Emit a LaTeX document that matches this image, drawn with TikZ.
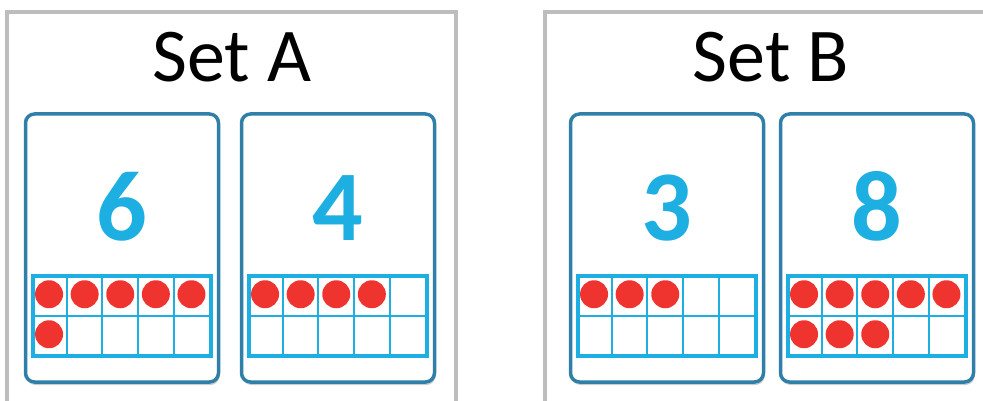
\documentclass[tikz,border=0pt]{standalone}
\usepackage{fontspec}
\setmainfont{Carlito}
\usetikzlibrary{positioning, shadows}

\definecolor{setgray}{HTML}{BDBDBD}
\definecolor{cardblue}{HTML}{2F7FA8}
\definecolor{digitblue}{HTML}{1DAFE2}
\definecolor{dotred}{HTML}{EF3430}

\begin{document}
\begin{tikzpicture}[x=1pt,y=-1pt,
  card/.style={draw=cardblue, line width=3.5pt, rounded corners=9pt, fill=white,
    minimum width=193pt, minimum height=268pt,
    drop shadow={shadow xshift=1pt, shadow yshift=-3pt, opacity=.4}},
  digit/.style={font=\fontsize{100}{100}\selectfont\bfseries, text=digitblue, anchor=base},
  title/.style={font=\fontsize{76}{76}\selectfont, anchor=base},
  frame/.style={draw=digitblue, line width=3.5pt, minimum width=178pt, minimum height=80pt, inner sep=0pt},
  dot/.style={fill=dotred, circle, inner sep=0pt, minimum size=28pt}]

  \useasboundingbox (0,0) rectangle (983,401);

  % the two set frames
  \draw[setgray, line width=3.5pt] (7,402) -- (7,12) -- (456,12) -- (456,402);
  \draw[setgray, line width=3.5pt] (545,402) -- (545,12) -- (984,12);

  \node[title] (setA) at (232,82) {Set A};
  \node[title] (setB) at (771,82) {Set B};

  % cards with ten frames
  \foreach \name/\cx/\num in {a/122/6, b/338/4, c/667/3, d/877/8} {
    \node[card] (card\name) at (\cx,248) {};
    \node[digit] (num\name) at (\cx,240) {\num};
    \node[frame] (ten\name) at (\cx,316) {};
    \draw[digitblue, line width=2pt] (ten\name.west) -- (ten\name.east);
    \foreach \i in {1,...,4}
      \draw[digitblue, line width=2pt] ([xshift=35.6*\i pt]ten\name.north west) -- ([xshift=35.6*\i pt]ten\name.south west);
    \foreach \k in {1,...,\num} {
      \pgfmathtruncatemacro{\col}{mod(\k-1,5)}
      \pgfmathtruncatemacro{\row}{(\k-1)/5}
      \node[dot] at ([xshift=35.6*\col pt+17.8pt, yshift=-40*\row pt-20pt]ten\name.north west) {};
    }
  }
\end{tikzpicture}
\end{document}
